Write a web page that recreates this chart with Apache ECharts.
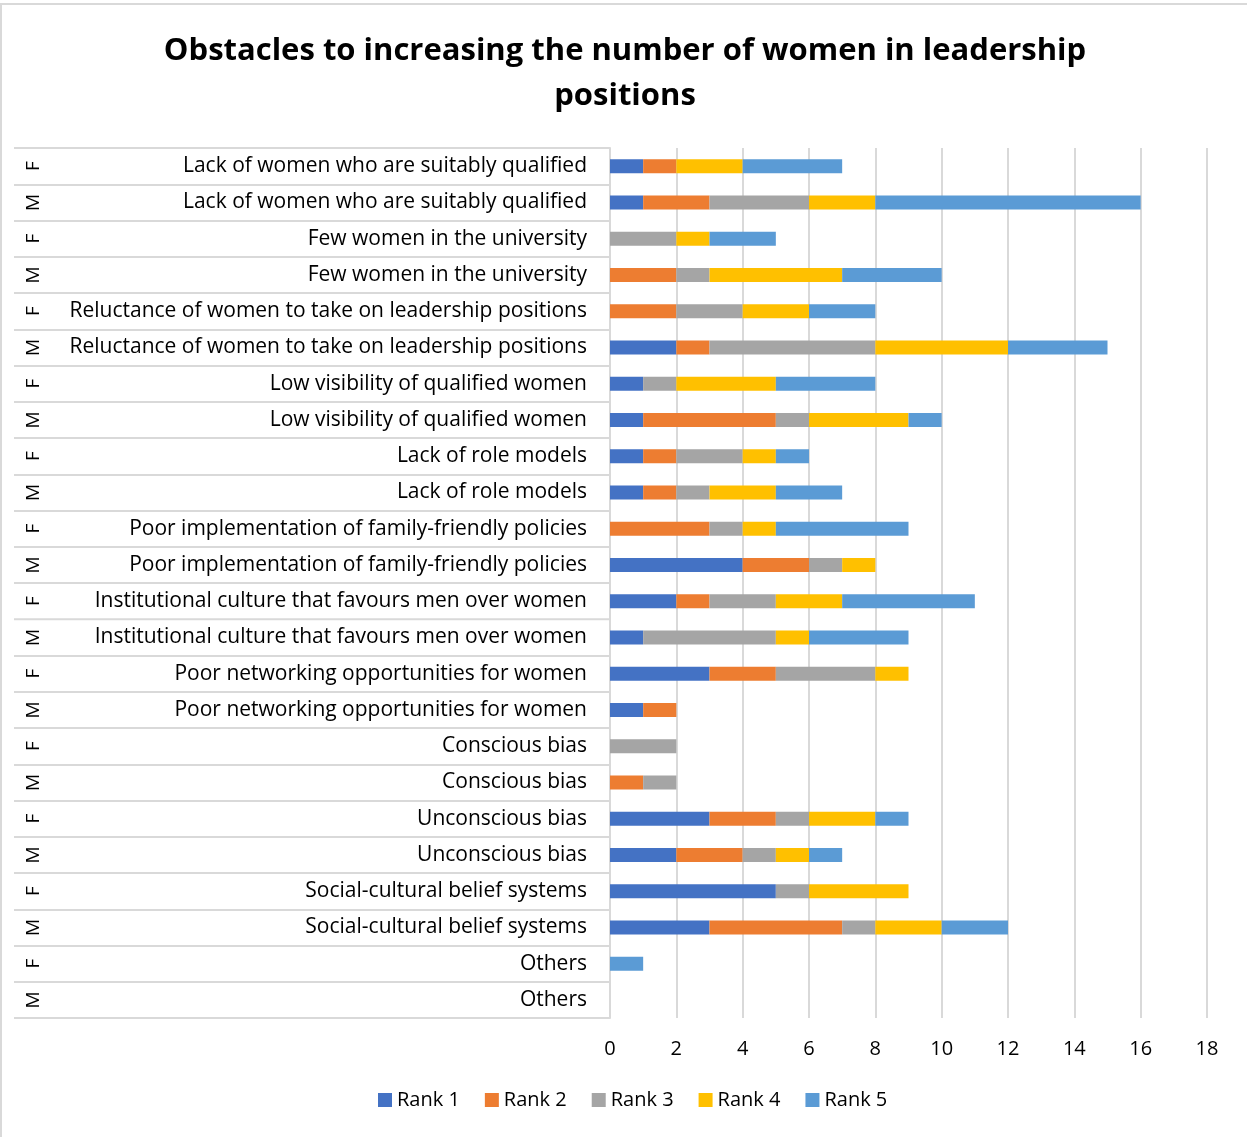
<!DOCTYPE html>
<html>
<head>
<meta charset="utf-8">
<script src="https://cdn.jsdelivr.net/npm/echarts@6/dist/echarts.min.js"></script>
<style>
html,body{margin:0;padding:0;background:#fff;}
#chart{width:1247px;height:1137px;}
</style>
</head>
<body>
<div id="chart"></div>
<script>
const categories = [
  "Lack of women who are suitably qualified",
  "Lack of women who are suitably qualified",
  "Few women in the university",
  "Few women in the university",
  "Reluctance of women to take on leadership positions",
  "Reluctance of women to take on leadership positions",
  "Low visibility of qualified women",
  "Low visibility of qualified women",
  "Lack of role models",
  "Lack of role models",
  "Poor implementation of family-friendly policies",
  "Poor implementation of family-friendly policies",
  "Institutional culture that favours men over women",
  "Institutional culture that favours men over women",
  "Poor networking opportunities for women",
  "Poor networking opportunities for women",
  "Conscious bias",
  "Conscious bias",
  "Unconscious bias",
  "Unconscious bias",
  "Social-cultural belief systems",
  "Social-cultural belief systems",
  "Others",
  "Others"
];
const genders = ["F","M","F","M","F","M","F","M","F","M","F","M","F","M","F","M","F","M","F","M","F","M","F","M"];

const rank1 = [1,1,0,0,0,2,1,1,1,1,0,4,2,1,3,1,0,0,3,2,5,3,0,0];
const rank2 = [1,2,0,2,2,1,0,4,1,1,3,2,1,0,2,1,0,1,2,2,0,4,0,0];
const rank3 = [0,3,2,1,2,5,1,1,2,1,1,1,2,4,3,0,2,1,1,1,1,1,0,0];
const rank4 = [2,2,1,4,2,4,3,3,1,2,1,1,2,1,1,0,0,0,2,1,3,2,0,0];
const rank5 = [3,8,2,3,2,3,3,1,1,2,4,0,4,3,0,0,0,0,1,1,0,2,1,0];

const seriesNames = ["Rank 1","Rank 2","Rank 3","Rank 4","Rank 5"];
const seriesData = [rank1, rank2, rank3, rank4, rank5];
const colors = ["#4472C4","#ED7D31","#A5A5A5","#FFC000","#5B9BD5"];

const FONT = "Open Sans, Liberation Sans, Arial, sans-serif";

const chart = echarts.init(document.getElementById('chart'), null, {renderer:'canvas'});
chart.setOption({
  animation: false,
  backgroundColor: '#ffffff',
  color: colors,
  title: {
    text: 'Obstacles to increasing the number of women in leadership\npositions',
    left: 620,
    top: 24,
    textAlign: 'center',
    textStyle: {fontFamily: FONT, fontSize: 31, fontWeight: 'bold', color: '#000', lineHeight: 45}
  },
  graphic: [{
    type: 'rect',
    shape: {x: 1, y: 4, width: 1300, height: 1300},
    style: {fill: 'none', stroke: '#d9d9d9', lineWidth: 2},
    silent: true, z: -10
  }],
  legend: {
    bottom: 22,
    left: 373,
    itemWidth: 14,
    itemHeight: 14,
    itemGap: 25,
    icon: 'rect',
    textStyle: {fontFamily: FONT, fontSize: 20, color: '#000'},
    data: seriesNames
  },
  grid: {left: 610, right: 40, top: 148, bottom: 119, containLabel: false},
  xAxis: {
    type: 'value',
    min: 0, max: 18, interval: 2,
    axisLine: {show: false},
    axisTick: {show: false},
    splitLine: {show: true, lineStyle: {color: '#d9d9d9', width: 2}},
    axisLabel: {fontFamily: FONT, fontSize: 20, color: '#000', margin: 21}
  },
  yAxis: [{
    type: 'category',
    data: categories,
    inverse: true,
    axisLine: {show: true, lineStyle: {color: '#d9d9d9', width: 2}},
    axisTick: {show: true, length: 596, lineStyle: {color: '#d9d9d9', width: 2}},
    axisLabel: {fontFamily: FONT, fontSize: 21, color: '#000', margin: 23}
  }, {
    type: 'category',
    data: genders,
    inverse: true,
    position: 'left',
    offset: 566,
    axisLine: {show: false},
    axisTick: {show: false},
    axisLabel: {fontFamily: FONT, fontSize: 19, color: '#000', rotate: 90, margin: 1}
  }],
  series: seriesData.map((d, i) => ({
    name: seriesNames[i],
    type: 'bar',
    stack: 'total',
    data: d,
    barWidth: 14,
    yAxisIndex: 0,
    itemStyle: {color: colors[i]}
  }))
});
</script>
</body>
</html>
